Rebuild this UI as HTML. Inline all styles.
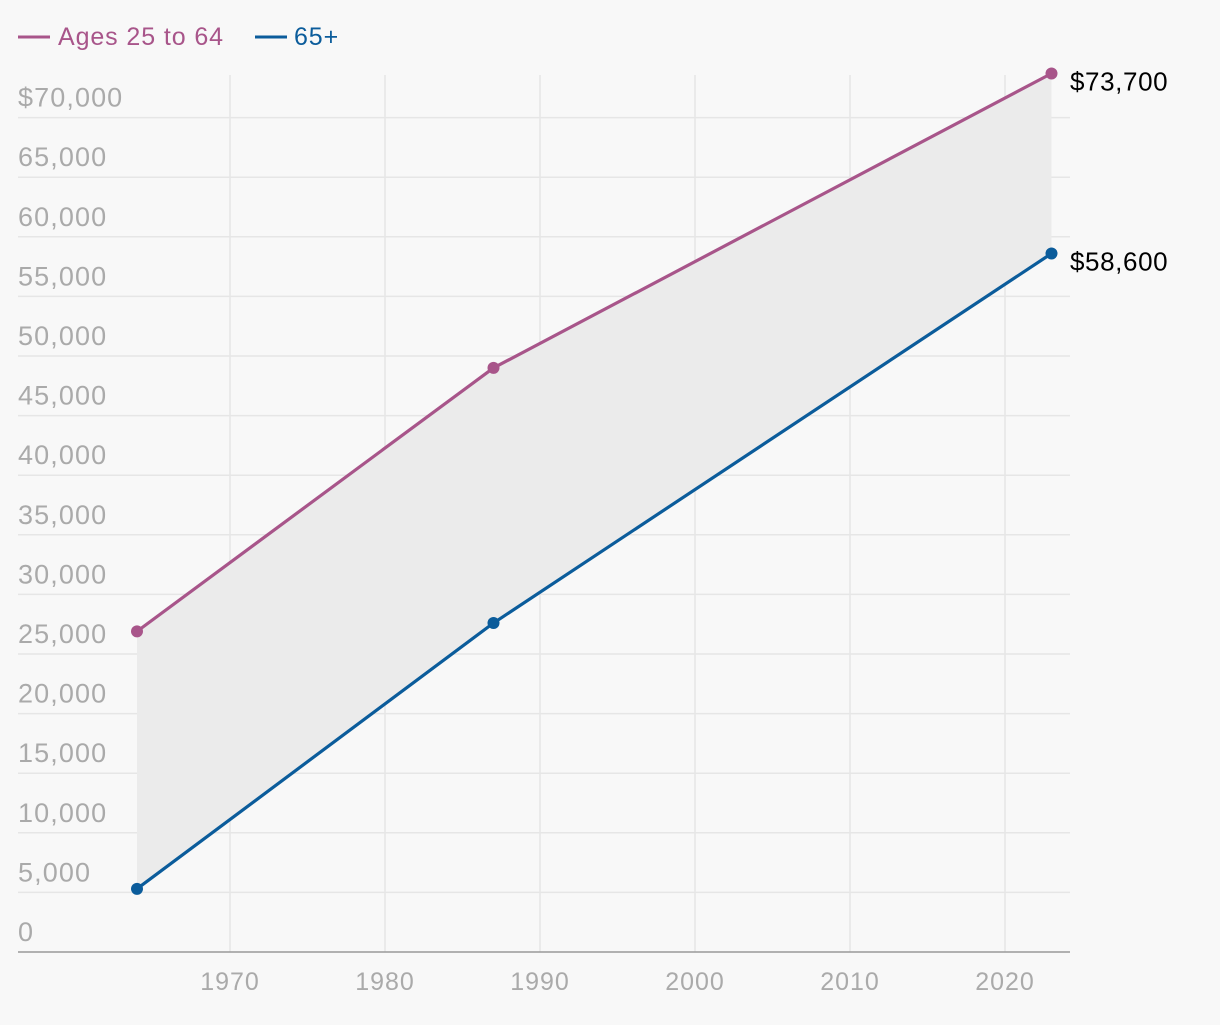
<!DOCTYPE html>
<html><head><meta charset="utf-8"><style>
body{margin:0;background:#f8f8f8;font-family:"Liberation Sans",sans-serif}
svg text{font-family:"Liberation Sans",sans-serif}
</style></head><body>
<svg id="c" width="1220" height="1020">
<rect width="1220" height="1020" fill="#f8f8f8"/>
<g>
<line x1="18" y1="37" x2="50" y2="37" stroke="#a8558a" stroke-width="3"/>
<text x="58" y="45" font-size="25" letter-spacing="0.9" fill="#a8558a">Ages 25 to 64</text>
<line x1="255" y1="37" x2="287" y2="37" stroke="#0b5c9b" stroke-width="3"/>
<text x="294" y="45" font-size="25" letter-spacing="0.9" fill="#0b5c9b">65+</text>
</g>
<g id="grid"></g><g id="marks"></g>
</svg>
<script>
const years=[1964,1987,2023];
const working=[26900,49000,73700];
const seniors=[5300,27600,58600];
const yTicks=[0,5000,10000,15000,20000,25000,30000,35000,40000,45000,50000,55000,60000,65000,70000];
const xTicks=[1970,1980,1990,2000,2010,2020];
const endLabels=["$73,700","$58,600"];
const NS="http://www.w3.org/2000/svg";
const x=v=>230+(v-1970)*15.5;
const y=v=>952-v*59.6/5000;
function mk(t,a,p){const e=document.createElementNS(NS,t);for(const k in a)e.setAttribute(k,a[k]);p.appendChild(e);return e;}
const g=document.getElementById('grid'),m=document.getElementById('marks');
xTicks.forEach(t=>{
 const l=mk('line',{x1:x(t),x2:x(t),y1:75,y2:952,stroke:'#e6e6e6','stroke-width':1.5},g);
 
 
 const tx=mk('text',{x:x(t),y:990,'text-anchor':'middle','font-size':25,'letter-spacing':1,fill:'#aaa'},g);
 tx.textContent=t;
 
 
});
yTicks.forEach((t,i)=>{
 if(t>0){const l=mk('line',{x1:18,x2:1070,y1:y(t),y2:y(t),stroke:'#e6e6e6','stroke-width':1.5},g);
 
 }
 const tx=mk('text',{x:18,y:y(t)-11,'font-size':27,'letter-spacing':1.1,fill:'#aaa'},g);
 tx.textContent=(i==yTicks.length-1?'$':'')+t.toLocaleString('en-US');
 
 
});
const ax=mk('line',{x1:18,x2:1070,y1:952,y2:952,stroke:'#999','stroke-width':1.5},g);


let d='M'+years.map((v,i)=>x(v)+','+y(working[i])).join('L');
d+='L'+years.map((v,i)=>x(v)+','+y(seniors[i])).reverse().join('L')+'Z';
const band=mk('path',{d:d,fill:'#ebebeb'},m);


[[working,'#a8558a','working-age'],[seniors,'#0b5c9b','seniors']].forEach(([s,c,n],si)=>{
 const p=mk('polyline',{points:years.map((v,i)=>x(v)+','+y(s[i])).join(' '),fill:'none',stroke:c,'stroke-width':3.2},m);
 
 
 years.forEach((v,i)=>{
  const ci=mk('circle',{cx:x(v),cy:y(s[i]),r:6,fill:c},m);
  
  
 });
 const t=mk('text',{x:1070,y:y(s[s.length-1])+17,'font-size':26,'letter-spacing':0.6,fill:'#000'},m);
 t.textContent=endLabels[si];
 
 
});
</script>
</body></html>
